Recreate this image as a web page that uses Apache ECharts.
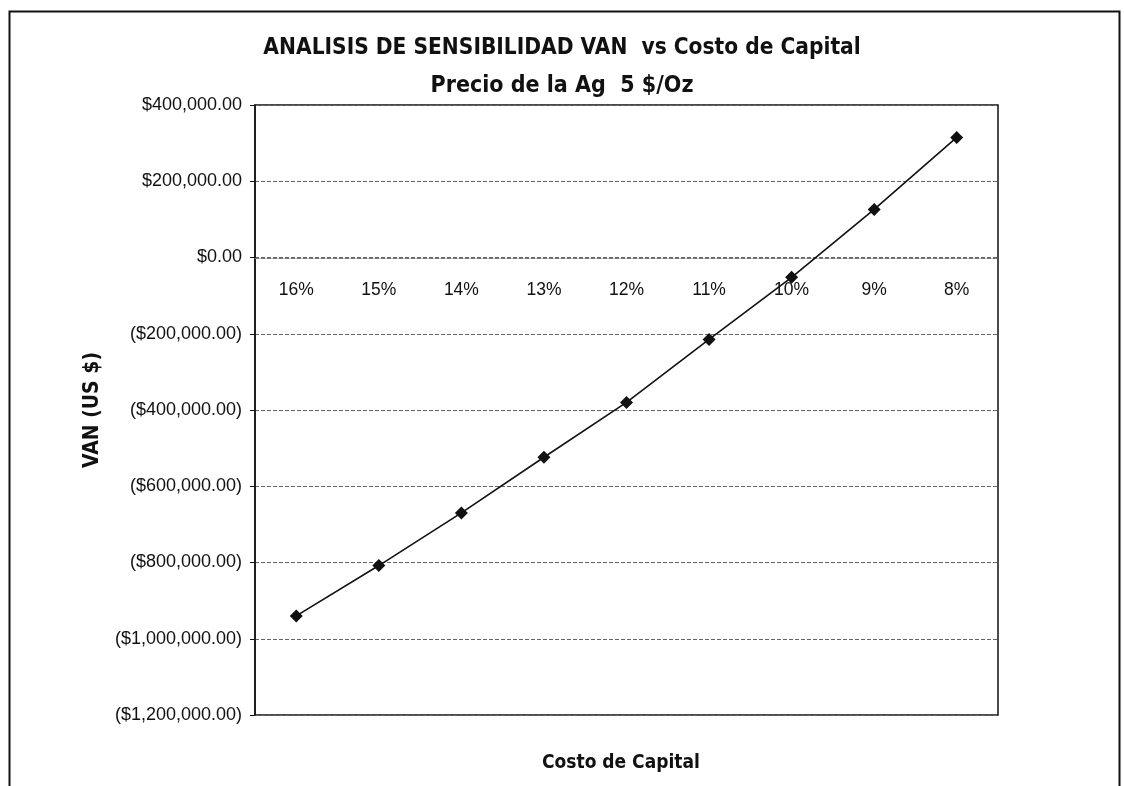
<!DOCTYPE html>
<html>
<head>
<meta charset="utf-8">
<script src="https://cdn.jsdelivr.net/npm/echarts@6/dist/echarts.min.js"></script>
<style>
html,body{margin:0;padding:0;background:#fff;}
#chart{width:1124px;height:786px;}
</style>
</head>
<body>
<div id="chart"></div>
<script>
const categories = ['16%', '15%', '14%', '13%', '12%', '11%', '10%', '9%', '8%'];
const vanValues = [-940000, -808000, -670000, -524000, -380000, -215000, -52000, 126000, 315000];
const titleText = 'ANALISIS DE SENSIBILIDAD VAN  vs Costo de Capital';
const subtitleText = 'Precio de la Ag  5 $/Oz';
const yAxisTitle = 'VAN (US $)';
const xAxisTitle = 'Costo de Capital';

const narrow = '"Liberation Sans Narrow", "DejaVu Sans Condensed", "Arial Narrow", sans-serif';
const regular = '"Liberation Sans", Arial, sans-serif';

function fmtMoney(v) {
  const s = '$' + Math.abs(v).toLocaleString('en-US', {minimumFractionDigits: 2, maximumFractionDigits: 2});
  return v < 0 ? '(' + s + ')' : s;
}

const chart = echarts.init(document.getElementById('chart'));
chart.setOption({
  animation: false,
  backgroundColor: '#fff',
  title: [
    {text: titleText, left: 'center', top: 32, textStyle: {fontFamily: narrow, fontWeight: 'bold', fontSize: 22.5, color: '#111'}},
    {text: subtitleText, left: 'center', top: 70, textStyle: {fontFamily: narrow, fontWeight: 'bold', fontSize: 23, color: '#111'}}
  ],
  graphic: [
    {type: 'rect', left: 7, top: 9, shape: {width: 1110, height: 790}, style: {fill: 'none', stroke: '#111', lineWidth: 2}, silent: true},
    {type: 'text', left: 542, top: 754, style: {text: xAxisTitle, font: 'bold 19px ' + narrow, fill: '#111'}}
  ],
  grid: {left: 255, right: 126, top: 105, bottom: 71, show: true, borderColor: '#111', borderWidth: 1.5, backgroundColor: 'transparent'},
  xAxis: {
    type: 'category',
    data: categories,
    boundaryGap: true,
    position: 'bottom',
    offset: -457,
    axisLine: {onZero: false, lineStyle: {color: '#777', type: 'dashed', width: 1}},
    axisTick: {show: false},
    axisLabel: {margin: 23, fontFamily: regular, fontSize: 17.5, color: '#111'}
  },
  yAxis: {
    type: 'value',
    min: -1200000,
    max: 400000,
    interval: 200000,
    name: yAxisTitle,
    nameLocation: 'middle',
    nameGap: 152,
    nameRotate: 90,
    nameTextStyle: {fontFamily: narrow, fontWeight: 'bold', fontSize: 21, color: '#111'},
    axisLine: {show: true, lineStyle: {color: '#111', width: 1.5}},
    axisTick: {show: true, length: 5, lineStyle: {color: '#111'}},
    axisLabel: {margin: 13, fontFamily: regular, fontSize: 18, color: '#111', formatter: fmtMoney},
    splitLine: {show: true, lineStyle: {color: '#666', width: 1, type: 'dashed'}}
  },
  series: [{
    type: 'line',
    data: vanValues,
    symbol: 'diamond',
    symbolSize: 13,
    lineStyle: {color: '#111', width: 1.6},
    itemStyle: {color: '#111'},
    z: 5
  }]
});
</script>
</body>
</html>
